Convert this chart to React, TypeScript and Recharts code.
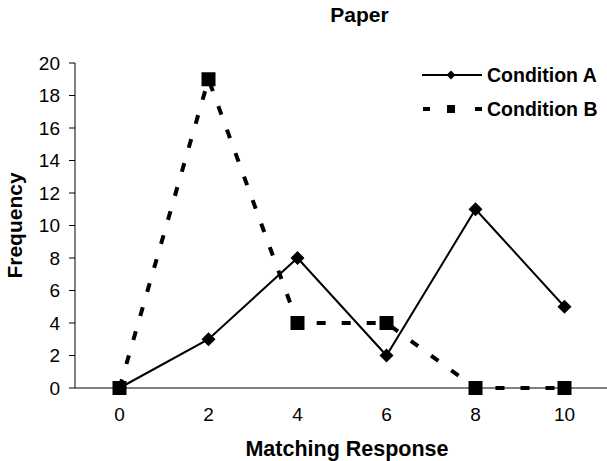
import React from 'react';
import { ComposedChart, Line, XAxis, YAxis, Legend } from 'recharts';

const xValues = [0, 2, 4, 6, 8, 10];
const conditionA = [0, 3, 8, 2, 11, 5];
const conditionB = [0, 19, 4, 4, 0, 0];
const yTicks = [0, 2, 4, 6, 8, 10, 12, 14, 16, 18, 20];
const xTicks = [0, 2, 4, 6, 8, 10];
const xBoundaryTicks = [-1, 1, 3, 5, 7, 9];
const seriesNames = ['Condition A', 'Condition B'];
const chartTitle = 'Paper';
const xTitle = 'Matching Response';
const yTitle = 'Frequency';

const data = xValues.map((x, i) => ({ x, a: conditionA[i], b: conditionB[i] }));

const FONT = '"Liberation Sans", Arial, sans-serif';
const X_DOMAIN: [number, number] = [-1, 10.955];

const Diamond = (props: any) => {
  const { cx, cy, index } = props;
  if (cx == null || cy == null) return <g key={`d-${index}`} />;
  const r = 7;
  return (
    <polygon
      key={`d-${index}`}
      points={`${cx},${cy - r} ${cx + r},${cy} ${cx},${cy + r} ${cx - r},${cy}`}
      fill="#000"
      stroke="none"
    />
  );
};

const Square = (props: any) => {
  const { cx, cy, index } = props;
  if (cx == null || cy == null) return <g key={`s-${index}`} />;
  const h = 7;
  return <rect key={`s-${index}`} x={cx - h} y={cy - h} width={2 * h} height={2 * h} fill="#000" />;
};

const LegendContent = () => (
  <svg width={190} height={60} style={{ display: 'block', overflow: 'visible' }}>
    <g>
      <line x1={4} y1={15} x2={64} y2={15} stroke="#000" strokeWidth={2} />
      <polygon points="33,10.5 37.5,15 33,19.5 28.5,15" fill="#000" />
      <text x={69} y={22} fontFamily={FONT} fontWeight="bold" fontSize={19.5} fill="#000">
        {seriesNames[0]}
      </text>
    </g>
    <g>
      <line x1={5} y1={49} x2={12} y2={49} stroke="#000" strokeWidth={4} />
      <rect x={29} y={45} width={8} height={8} fill="#000" />
      <line x1={57} y1={49} x2={64} y2={49} stroke="#000" strokeWidth={4} />
      <text x={69} y={56} fontFamily={FONT} fontWeight="bold" fontSize={19.5} fill="#000">
        {seriesNames[1]}
      </text>
    </g>
  </svg>
);

export default function App() {
  return (
    <div style={{ position: 'absolute', left: 0, top: 0, width: 607, height: 461, background: '#fff' }}>
      <ComposedChart
        width={607}
        height={461}
        data={data}
        margin={{ top: 63, right: 0, bottom: 0, left: 0 }}
      >
        <XAxis
          xAxisId="marks"
          type="number"
          dataKey="x"
          domain={X_DOMAIN}
          allowDataOverflow
          ticks={xBoundaryTicks}
          interval={0}
          tick={false}
          axisLine={false}
          tickLine={{ stroke: '#000', strokeWidth: 1 }}
          tickSize={5}
          height={0}
        />
        <XAxis
          xAxisId="main"
          type="number"
          dataKey="x"
          domain={X_DOMAIN}
          allowDataOverflow
          ticks={xTicks}
          interval={0}
          tickLine={false}
          axisLine={{ stroke: '#000', strokeWidth: 1 }}
          tickSize={5}
          tickMargin={15}
          height={73}
          tick={{ fill: '#000', fontSize: 19, fontFamily: FONT }}
          label={{
            content: (p: any) => {
              const vb = p.viewBox || {};
              return (
                <text
                  x={vb.x + vb.width / 2 + 6}
                  y={vb.y + vb.height - 5}
                  textAnchor="middle"
                  fontFamily={FONT}
                  fontWeight="bold"
                  fontSize={21.5}
                  fill="#000"
                >
                  {xTitle}
                </text>
              );
            },
          }}
        />
        <YAxis
          type="number"
          domain={[0, 20]}
          ticks={yTicks}
          interval={0}
          width={75}
          tickSize={6}
          tickMargin={9}
          axisLine={{ stroke: '#000', strokeWidth: 1 }}
          tickLine={{ stroke: '#000', strokeWidth: 1 }}
          tick={{ fill: '#000', fontSize: 19, fontFamily: FONT }}
          label={{
            content: (p: any) => {
              const vb = p.viewBox || {};
              const cy = vb.y + vb.height / 2;
              return (
                <text
                  x={22}
                  y={cy}
                  transform={`rotate(-90, 22, ${cy})`}
                  textAnchor="middle"
                  fontFamily={FONT}
                  fontWeight="bold"
                  fontSize={21}
                  fill="#000"
                >
                  {yTitle}
                </text>
              );
            },
          }}
        />
        <Legend
          layout="vertical"
          align="center"
          verticalAlign="middle"
          content={() => <LegendContent />}
          wrapperStyle={{ position: 'absolute', left: 418, top: 60, width: 190, height: 60 }}
        />
        <Line
          xAxisId="main"
          dataKey="a"
          name={seriesNames[0]}
          stroke="#000"
          strokeWidth={2}
          dot={Diamond}
          activeDot={false}
          isAnimationActive={false}
          type="linear"
        />
        <Line
          xAxisId="main"
          dataKey="b"
          name={seriesNames[1]}
          stroke="#000"
          strokeWidth={4}
          strokeDasharray="9 16"
          dot={Square}
          activeDot={false}
          isAnimationActive={false}
          type="linear"
        />
      </ComposedChart>
      <svg
        width={607}
        height={461}
        style={{ position: 'absolute', left: 0, top: 0, pointerEvents: 'none' }}
      >
        <text x={359.5} y={22} textAnchor="middle" fontFamily={FONT} fontWeight="bold" fontSize={21} fill="#000">
          {chartTitle}
        </text>
      </svg>
    </div>
  );
}
